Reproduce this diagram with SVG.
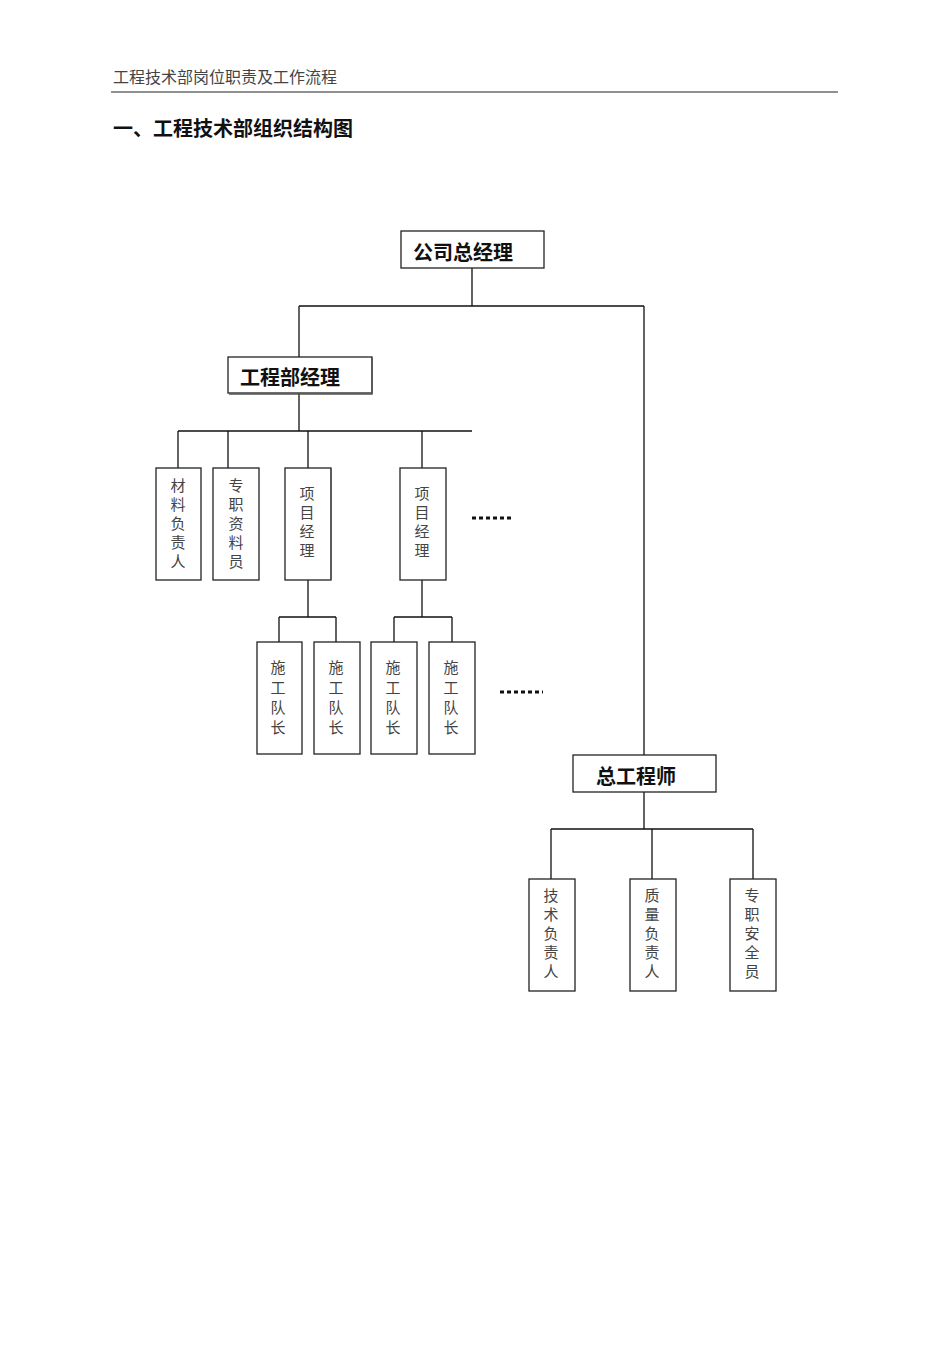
<svg xmlns="http://www.w3.org/2000/svg" width="950" height="1345" viewBox="0 0 950 1345">
<style>
.b{fill:#fff;stroke:#222;stroke-width:1.3}
.s{stroke:#555;stroke-width:1.5;fill:none}
.l{stroke:#111;stroke-width:1.3;fill:none}
.t{font-family:"Noto Sans CJK SC",sans-serif;font-size:20px;font-weight:bold;fill:#111}
.v{font-family:"Noto Sans CJK SC",sans-serif;font-size:15px;fill:#444;text-anchor:middle}
.d{stroke:#111;stroke-width:3;stroke-dasharray:4,3}
</style>
<rect width="950" height="1345" fill="#fff"/>
<text x="113" y="83" font-family="Noto Sans CJK SC,sans-serif" font-size="16" fill="#444">工程技术部岗位职责及工作流程</text>
<line x1="111" y1="92" x2="838" y2="92" stroke="#222" stroke-width="1.2"/>
<text x="113" y="136" font-family="Noto Sans CJK SC,sans-serif" font-size="20" font-weight="bold" fill="#111">一、工程技术部组织结构图</text>
<g id="connectors">
<path class="l" d="M472 268V306M299 306H644M299 306V357M644 306V755M299 393V431M178 431H472M178 431V468M228 431V468M308 431V468M422 431V468"/>
<path class="l" d="M308 580V617M279 617H336M279 617V642M336 617V642M422 580V617M394 617H452M394 617V642M452 617V642"/>
<path class="l" d="M644 792V829M551 829H753M551 829V879M652 829V879M753 829V879"/>
<line class="d" x1="472" y1="518" x2="514" y2="518"/>
<line class="d" x1="500" y1="692" x2="543" y2="692"/>
</g>
<g id="n-gm"><rect class="b" x="401" y="231" width="143" height="37"/><text class="t" x="413" y="260">公司总经理</text></g>
<g id="n-em"><rect class="b" x="228" y="357" width="144" height="36"/><path class="s" d="M372 358V394H229"/><text class="t" x="240" y="385">工程部经理</text></g>
<g id="n-ce"><rect class="b" x="573" y="755" width="143" height="37"/><text class="t" x="596" y="784">总工程师</text></g>
<g id="n1"><rect class="b" x="156" y="468" width="45" height="112"/><text class="v" x="178" y="491">材</text><text class="v" x="178" y="510">料</text><text class="v" x="178" y="529">负</text><text class="v" x="178" y="548">责</text><text class="v" x="178" y="567">人</text></g>
<g id="n2"><rect class="b" x="213" y="468" width="46" height="112"/><text class="v" x="236" y="491">专</text><text class="v" x="236" y="510">职</text><text class="v" x="236" y="529">资</text><text class="v" x="236" y="548">料</text><text class="v" x="236" y="567">员</text></g>
<g id="n3"><rect class="b" x="285" y="468" width="46" height="112"/><path class="s" d="M331 469V580"/><text class="v" x="307" y="499">项</text><text class="v" x="307" y="518">目</text><text class="v" x="307" y="537">经</text><text class="v" x="307" y="556">理</text></g>
<g id="n4"><rect class="b" x="400" y="468" width="46" height="112"/><text class="v" x="422" y="499">项</text><text class="v" x="422" y="518">目</text><text class="v" x="422" y="537">经</text><text class="v" x="422" y="556">理</text></g>
<g id="n5"><rect class="b" x="257" y="642" width="45" height="112"/><text class="v" x="278" y="673">施</text><text class="v" x="278" y="693">工</text><text class="v" x="278" y="713">队</text><text class="v" x="278" y="733">长</text></g>
<g id="n6"><rect class="b" x="314" y="642" width="46" height="112"/><text class="v" x="336" y="673">施</text><text class="v" x="336" y="693">工</text><text class="v" x="336" y="713">队</text><text class="v" x="336" y="733">长</text></g>
<g id="n7"><rect class="b" x="371" y="642" width="46" height="112"/><text class="v" x="393" y="673">施</text><text class="v" x="393" y="693">工</text><text class="v" x="393" y="713">队</text><text class="v" x="393" y="733">长</text></g>
<g id="n8"><rect class="b" x="429" y="642" width="46" height="112"/><text class="v" x="451" y="673">施</text><text class="v" x="451" y="693">工</text><text class="v" x="451" y="713">队</text><text class="v" x="451" y="733">长</text></g>
<g id="n9"><rect class="b" x="529" y="879" width="46" height="112"/><text class="v" x="551" y="901">技</text><text class="v" x="551" y="920">术</text><text class="v" x="551" y="939">负</text><text class="v" x="551" y="958">责</text><text class="v" x="551" y="977">人</text></g>
<g id="n10"><rect class="b" x="630" y="879" width="46" height="112"/><text class="v" x="652" y="901">质</text><text class="v" x="652" y="920">量</text><text class="v" x="652" y="939">负</text><text class="v" x="652" y="958">责</text><text class="v" x="652" y="977">人</text></g>
<g id="n11"><rect class="b" x="730" y="879" width="46" height="112"/><text class="v" x="752" y="901">专</text><text class="v" x="752" y="920">职</text><text class="v" x="752" y="939">安</text><text class="v" x="752" y="958">全</text><text class="v" x="752" y="977">员</text></g>
</svg>
